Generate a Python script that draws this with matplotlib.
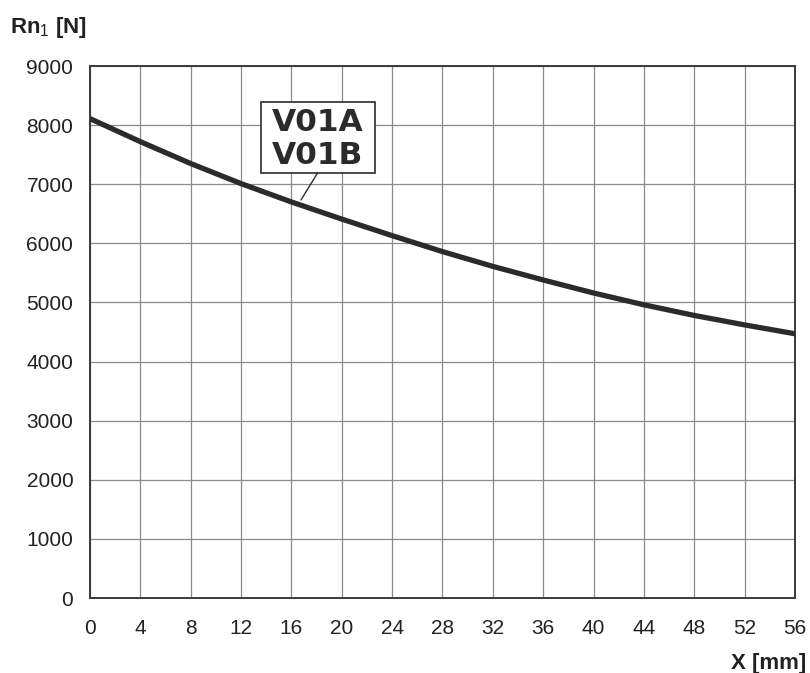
import matplotlib
matplotlib.use("Agg")
import matplotlib.pyplot as plt
from matplotlib.patches import Rectangle

plt.rcParams["font.family"] = ["Liberation Sans", "DejaVu Sans"]
plt.rcParams["mathtext.fontset"] = "custom"
plt.rcParams["mathtext.rm"] = "Liberation Sans"

# stroke X [mm] vs radial load Rn1 [N]
x_mm = [0, 4, 8, 12, 16, 20, 24, 28, 32, 36, 40, 44, 48, 52, 56]
rn1 = [8110, 7720, 7350, 7010, 6700, 6410, 6130, 5860, 5610, 5380, 5160, 4960, 4780, 4620, 4470]
x_ticks = list(range(0, 57, 4))
y_ticks = list(range(0, 9001, 1000))
curve_label = "V01A\nV01B"

fig = plt.figure(figsize=(8.1, 6.73), dpi=100)
ax = fig.add_axes([90 / 810, 1 - 598 / 673, 705 / 810, 532 / 673])

ax.plot(x_mm, rn1, color="#2b2b2b", lw=3.8, solid_capstyle="butt", zorder=3)

ax.set_xlim(0, 56)
ax.set_ylim(0, 9000)
ax.set_xticks(x_ticks)
ax.set_yticks(y_ticks)
ax.grid(True, color="#8a8a8a", lw=0.9)
ax.set_axisbelow(True)
ax.tick_params(length=0, labelsize=15, labelcolor="#222222")
ax.tick_params(axis="x", pad=15)
ax.tick_params(axis="y", pad=12)
for s in ax.spines.values():
    s.set_color("#3a3a3a")
    s.set_linewidth(1.4)

# label box with leader line to the curve
box_x0, box_x1 = 13.58, 22.64
box_y0, box_y1 = 7195, 8396
ax.add_patch(Rectangle((box_x0, box_y0), box_x1 - box_x0, box_y1 - box_y0,
                       fc="white", ec="#3a3a3a", lw=1.3, zorder=4))
ax.text((box_x0 + box_x1) / 2, 7765, curve_label, ha="center", va="center",
        fontsize=22.5, fontweight="bold", family="DejaVu Sans",
        color="#2b2b2b", linespacing=1.18, zorder=5)
ax.annotate("", xy=(16.76, 6734), xytext=(18.09, box_y0),
            arrowprops=dict(arrowstyle="-", color="#2b2b2b", lw=1.0,
                            shrinkA=0, shrinkB=0),
            zorder=4)

fig.text(10 / 810, 1 - 28 / 673, r"Rn$_{1}$ [N]", fontsize=16, fontweight="bold",
         color="#222222", ha="left", va="center")
fig.text(806 / 810, 1 - 663 / 673, "X [mm]", fontsize=16, fontweight="bold",
         color="#222222", ha="right", va="center")

fig.savefig("out.png", dpi=100)
